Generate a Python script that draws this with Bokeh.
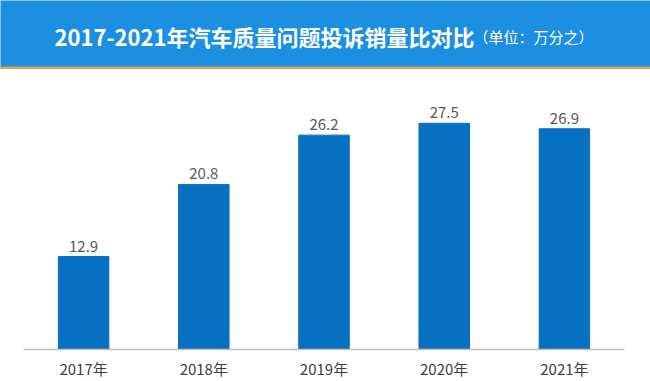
from bokeh.plotting import figure
from bokeh.models import Range1d, FactorRange, BoxAnnotation, Label, ColumnDataSource
from bokeh.layouts import column
from bokeh.core.properties import value
from bokeh.embed import file_html
from bokeh.resources import INLINE

# ---- data ----
years = ["2017年", "2018年", "2019年", "2020年", "2021年"]
ratios = [12.9, 20.8, 26.2, 27.5, 26.9]
labels = ["12.9", "20.8", "26.2", "27.5", "26.9"]

title_main = "2017-2021年汽车质量问题投诉销量比对比"
title_unit = "（单位：万分之）"

FONT = "Noto Sans CJK SC"
W = 650
HH = 69

# ---- header ----
hdr = figure(width=W, height=HH, x_range=Range1d(0, W), y_range=Range1d(0, HH),
             x_axis_type=None, y_axis_type=None, toolbar_location=None,
             output_backend="svg", min_border=0)
hdr.background_fill_color = "#1C8FE0"
hdr.border_fill_color = "#1C8FE0"
hdr.outline_line_color = None
hdr.grid.visible = False
hdr.add_layout(BoxAnnotation(bottom=0, top=3, fill_color="#E0A04C", fill_alpha=1,
                             line_color=None))
hdr.add_layout(Label(x=54, y=HH - 35, text=title_main, text_color="white",
                     text_font=FONT, text_font_size="22px", text_font_style="bold",
                     text_baseline="middle", text_align="left"))
hdr.add_layout(Label(x=473, y=HH - 36, text=title_unit, text_color="white",
                     text_font=FONT, text_font_size="15px",
                     text_baseline="middle", text_align="left"))

# ---- chart ----
src = ColumnDataSource(dict(year=years, ratio=ratios, label=labels))
p = figure(width=W, height=381 - HH, x_range=FactorRange(*years),
           y_range=Range1d(2.72, 33.39), toolbar_location=None,
           output_backend="svg", min_border_left=23, min_border_right=26,
           min_border_top=0, min_border_bottom=32)
p.vbar(x="year", top="ratio", bottom=0, width=0.42, source=src,
       fill_color="#0870C0", line_color="#0870C0")
p.text(x="year", y="ratio", text="label", source=src, y_offset=-5,
       text_align="center", text_baseline="bottom", text_color="#595959",
       text_font=value(FONT), text_font_size="15px")

p.yaxis.visible = False
p.grid.visible = False
p.outline_line_color = None
p.background_fill_color = "white"
p.border_fill_color = "white"
xa = p.xaxis[0]
xa.axis_line_color = "#BFBFBF"
xa.axis_line_width = 1.5
xa.major_tick_line_color = None
xa.minor_tick_line_color = None
xa.major_tick_out = 0
xa.major_tick_in = 0
xa.major_label_text_font = FONT
xa.major_label_text_font_size = "15px"
xa.major_label_text_color = "#404040"
xa.major_label_standoff = 8

layout = column(column(hdr), p, spacing=0)
open("out.html", "w").write(file_html(layout, INLINE))
